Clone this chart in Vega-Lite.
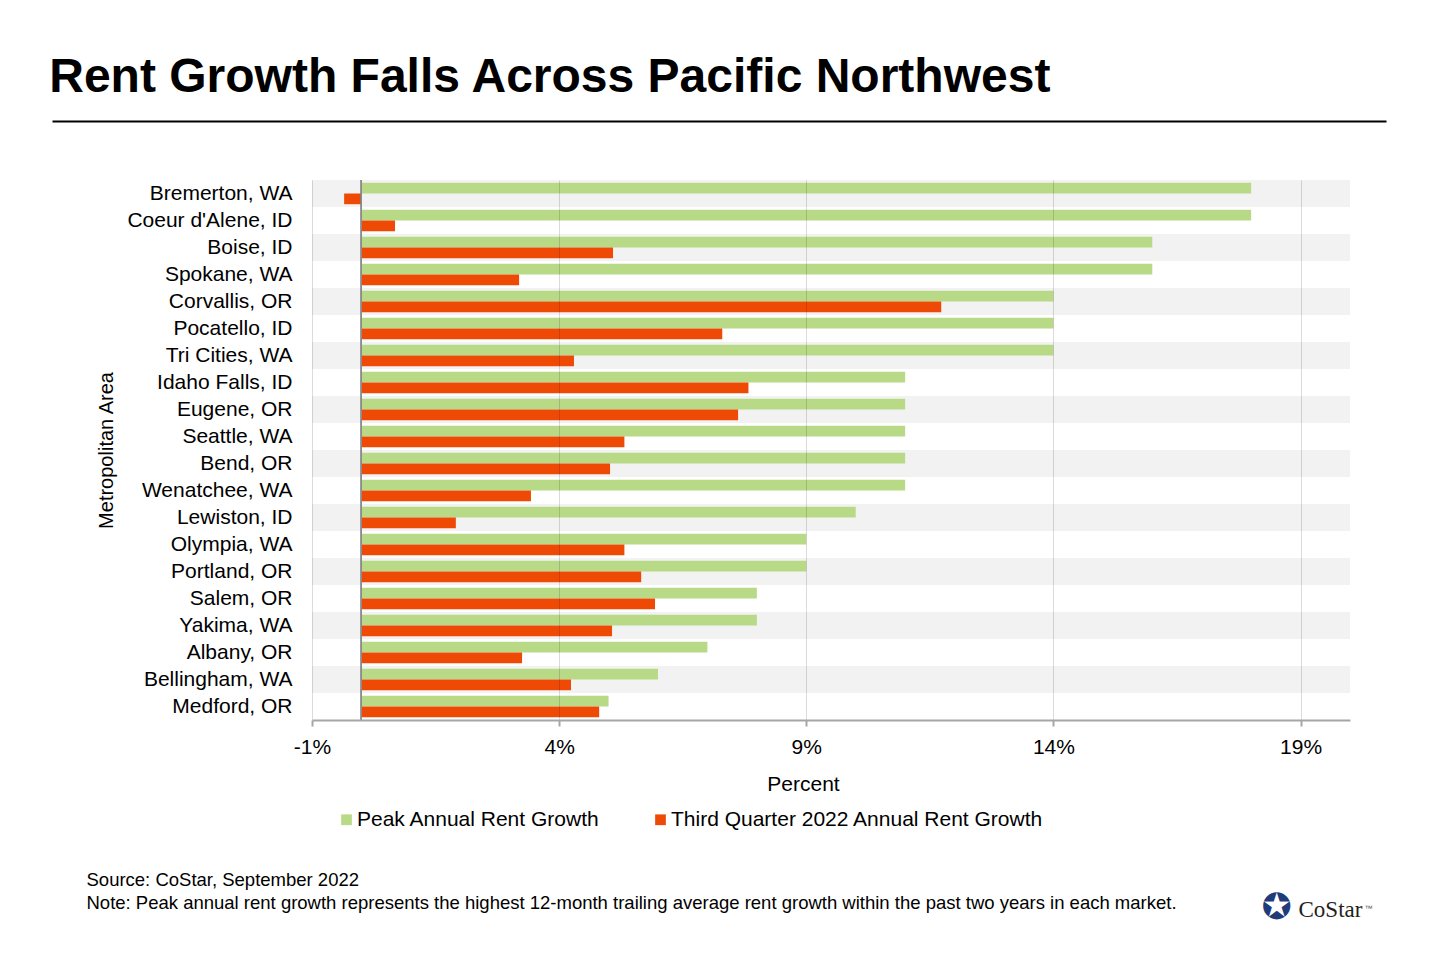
{
  "$schema": "https://vega.github.io/schema/vega-lite/v6.json",
  "width": 1038,
  "height": 540,
  "autosize": {"type": "none"},
  "padding": {"left": 312, "top": 180, "right": 90, "bottom": 240},
  "background": "white",
  "title": {
    "text": "Rent Growth Falls Across Pacific Northwest",
    "anchor": "start",
    "frame": "bounds",
    "fontSize": 48,
    "fontWeight": "bold",
    "font": "Liberation Sans",
    "color": "#000000",
    "baseline": "alphabetic",
    "offset": -19
  },
  "layer": [
    {
      "data": {
        "values": [
          {"metro": "Bremerton, WA", "Peak Annual Rent Growth": 18, "Third Quarter 2022 Annual Rent Growth": -0.35},
          {"metro": "Coeur d'Alene, ID", "Peak Annual Rent Growth": 18, "Third Quarter 2022 Annual Rent Growth": 0.68},
          {"metro": "Boise, ID", "Peak Annual Rent Growth": 16, "Third Quarter 2022 Annual Rent Growth": 5.09},
          {"metro": "Spokane, WA", "Peak Annual Rent Growth": 16, "Third Quarter 2022 Annual Rent Growth": 3.19},
          {"metro": "Corvallis, OR", "Peak Annual Rent Growth": 14, "Third Quarter 2022 Annual Rent Growth": 11.73},
          {"metro": "Pocatello, ID", "Peak Annual Rent Growth": 14, "Third Quarter 2022 Annual Rent Growth": 7.3},
          {"metro": "Tri Cities, WA", "Peak Annual Rent Growth": 14, "Third Quarter 2022 Annual Rent Growth": 4.3},
          {"metro": "Idaho Falls, ID", "Peak Annual Rent Growth": 11, "Third Quarter 2022 Annual Rent Growth": 7.83},
          {"metro": "Eugene, OR", "Peak Annual Rent Growth": 11, "Third Quarter 2022 Annual Rent Growth": 7.62},
          {"metro": "Seattle, WA", "Peak Annual Rent Growth": 11, "Third Quarter 2022 Annual Rent Growth": 5.32},
          {"metro": "Bend, OR", "Peak Annual Rent Growth": 11, "Third Quarter 2022 Annual Rent Growth": 5.03},
          {"metro": "Wenatchee, WA", "Peak Annual Rent Growth": 11, "Third Quarter 2022 Annual Rent Growth": 3.43},
          {"metro": "Lewiston, ID", "Peak Annual Rent Growth": 10, "Third Quarter 2022 Annual Rent Growth": 1.91},
          {"metro": "Olympia, WA", "Peak Annual Rent Growth": 9, "Third Quarter 2022 Annual Rent Growth": 5.32},
          {"metro": "Portland, OR", "Peak Annual Rent Growth": 9, "Third Quarter 2022 Annual Rent Growth": 5.66},
          {"metro": "Salem, OR", "Peak Annual Rent Growth": 8, "Third Quarter 2022 Annual Rent Growth": 5.94},
          {"metro": "Yakima, WA", "Peak Annual Rent Growth": 8, "Third Quarter 2022 Annual Rent Growth": 5.07},
          {"metro": "Albany, OR", "Peak Annual Rent Growth": 7, "Third Quarter 2022 Annual Rent Growth": 3.25},
          {"metro": "Bellingham, WA", "Peak Annual Rent Growth": 6, "Third Quarter 2022 Annual Rent Growth": 4.24},
          {"metro": "Medford, OR", "Peak Annual Rent Growth": 5, "Third Quarter 2022 Annual Rent Growth": 4.81}
        ]
      },
      "layer": [
        {
          "transform": [{"window": [{"op": "row_number", "as": "i"}]}],
          "mark": {"type": "rect"},
          "encoding": {
            "y": {"field": "metro", "type": "nominal", "sort": null},
            "x": {"datum": -1},
            "x2": {"datum": 20},
            "fill": {"condition": {"test": "datum.i % 2 == 1", "value": "#f2f2f2"}, "value": "transparent"}
          }
        },
        {
          "transform": [
            {"fold": ["Peak Annual Rent Growth", "Third Quarter 2022 Annual Rent Growth"], "as": ["series", "value"]}
          ],
          "mark": {"type": "bar"},
          "encoding": {
            "y": {
              "field": "metro",
              "type": "nominal",
              "sort": null,
              "scale": {"paddingInner": 0, "paddingOuter": 0},
              "axis": {
                "title": "Metropolitan Area",
                "domain": false,
                "ticks": false,
                "labelFontSize": 21,
                "labelPadding": 20,
                "labelColor": "#000000",
                "labelLimit": 400,
                "titleFontSize": 20,
                "titleFontWeight": "normal",
                "titleColor": "#000000",
                "titlePadding": 10
              }
            },
            "yOffset": {
              "field": "series",
              "type": "nominal",
              "sort": ["Peak Annual Rent Growth", "Third Quarter 2022 Annual Rent Growth"],
              "scale": {"paddingInner": 0, "paddingOuter": 0.26}
            },
            "x": {
              "field": "value",
              "type": "quantitative",
              "scale": {"domain": [-1, 20], "nice": false, "zero": false},
              "axis": {
                "title": "Percent",
                "values": [-1, 4, 9, 14, 19],
                "labelExpr": "datum.value + '%'",
                "labelFlush": false,
                "labelOverlap": false,
                "labelFontSize": 21,
                "labelColor": "#000000",
                "labelPadding": 10,
                "domainColor": "#a6a6a6",
                "domainWidth": 2,
                "tickColor": "#a6a6a6",
                "tickWidth": 2,
                "tickSize": 6,
                "grid": true,
                "gridColor": "#000000",
                "gridOpacity": 0.14,
                "gridWidth": 1,
                "titleFontSize": 21,
                "titleFontWeight": "normal",
                "titleColor": "#000000",
                "titlePadding": 16,
                "titleX": 491,
                "titleAlign": "center",
                "zindex": 1
              }
            },
            "color": {
              "field": "series",
              "type": "nominal",
              "scale": {
                "domain": ["Peak Annual Rent Growth", "Third Quarter 2022 Annual Rent Growth"],
                "range": ["#b8d986", "#ee4a06"]
              },
              "legend": {
                "title": null,
                "orient": "none",
                "legendX": 24,
                "legendY": 629,
                "direction": "horizontal",
                "symbolType": "square",
                "symbolSize": 115,
                "symbolStrokeWidth": 0,
                "labelFontSize": 21,
                "labelColor": "#000000",
                "labelOffset": 0,
                "labelLimit": 600,
                "columnPadding": 50,
                "padding": 0
              }
            }
          }
        },
        {
          "mark": {"type": "rule", "color": "#8c8c8c", "strokeWidth": 1},
          "encoding": {"x": {"datum": 0}}
        }
      ]
    },
    {
      "data": {"values": [{}]},
      "mark": {"type": "point", "opacity": 0},
      "encoding": {
        "x": {
          "datum": 0,
          "type": "quantitative",
          "scale": {"domain": [0, 1], "range": [-260, 1074]},
          "axis": {
            "orient": "top",
            "offset": 59,
            "labels": false,
            "ticks": false,
            "grid": false,
            "domainColor": "#000000",
            "domainWidth": 2,
            "title": ["Source: CoStar, September 2022", "Note: Peak annual rent growth represents the highest 12-month trailing average rent growth within the past two years in each market."],
            "titleX": -226,
            "titleY": 764,
            "titleAlign": "left",
            "titleAnchor": "start",
            "titleBaseline": "alphabetic",
            "titleFontSize": 18.5,
            "titleFontWeight": "normal",
            "titleColor": "#000000",
            "titleLineHeight": 23
          }
        },
        "y": {
          "datum": 0,
          "type": "quantitative",
          "axis": {
            "orient": "right",
            "labels": false,
            "ticks": false,
            "grid": false,
            "domain": false,
            "title": "CoStar",
            "titleAngle": 0,
            "titleX": -52,
            "titleY": 736,
            "titleAlign": "left",
            "titleBaseline": "alphabetic",
            "titleFont": "Liberation Serif",
            "titleFontSize": 23,
            "titleFontWeight": "normal",
            "titleColor": "#231f20"
          }
        }
      }
    },
    {
      "data": {"values": [{}]},
      "mark": {"type": "point", "opacity": 0},
      "encoding": {
        "x": {
          "datum": 0,
          "type": "quantitative",
          "axis": {
            "orient": "bottom",
            "labels": false,
            "ticks": false,
            "grid": false,
            "domain": false,
            "title": "™",
            "titleX": 1052,
            "titleY": 190,
            "titleAlign": "left",
            "titleBaseline": "alphabetic",
            "titleFont": "Liberation Sans",
            "titleFontSize": 8,
            "titleFontWeight": "normal",
            "titleColor": "#555555"
          }
        },
        "y": {
          "datum": 0,
          "type": "quantitative",
          "axis": {
            "orient": "right",
            "labels": false,
            "ticks": false,
            "grid": false,
            "domain": false,
            "title": "✪",
            "titleAngle": 0,
            "titleX": -74,
            "titleY": 727,
            "titleAlign": "center",
            "titleBaseline": "middle",
            "titleFont": "DejaVu Sans",
            "titleFontSize": 36,
            "titleFontWeight": "normal",
            "titleColor": "#1f3b7a"
          }
        }
      }
    }
  ],
  "resolve": {"scale": {"x": "independent", "y": "independent"}},
  "config": {
    "font": "Liberation Sans",
    "view": {"stroke": null}
  }
}
